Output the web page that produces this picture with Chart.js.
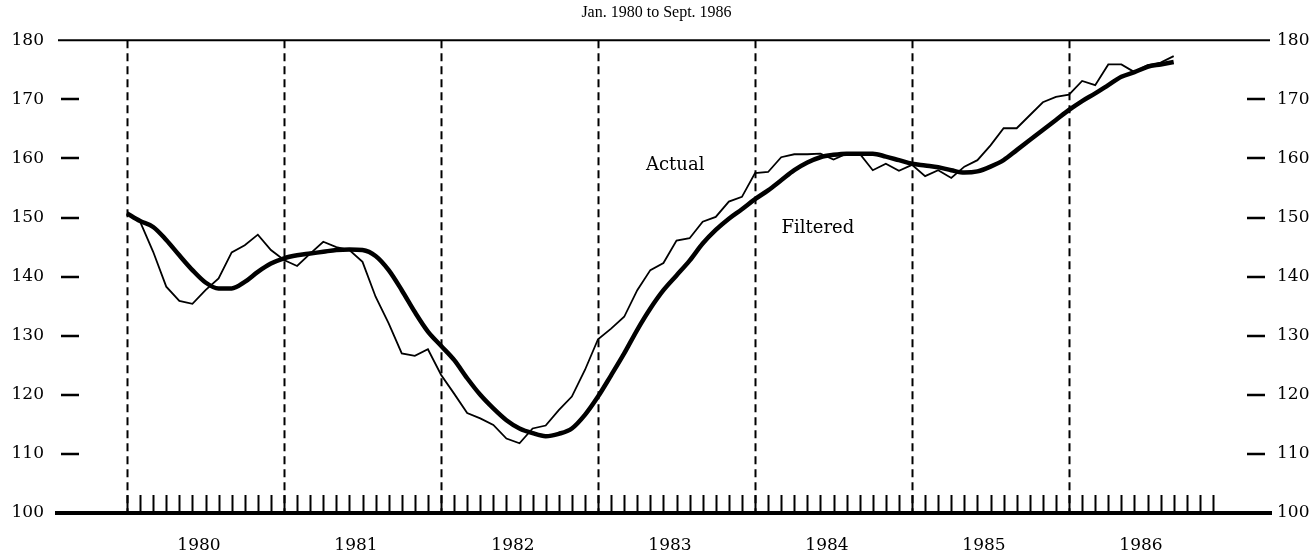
<!DOCTYPE html>
<html>
<head>
<meta charset="utf-8">
<title>Jan. 1980 to Sept. 1986</title>
<script src="https://cdn.jsdelivr.net/npm/chart.js@4.4.1/dist/chart.umd.min.js"></script>
<style>
  html, body { margin: 0; padding: 0; background: #fff; }
  #wrap { width: 1313px; height: 555px; position: relative; }
</style>
</head>
<body>
<div id="wrap"><canvas id="chart"></canvas></div>
<script>
/* ── Data (monthly, Jan 1980 = month 0) ── */
const years = ['1980', '1981', '1982', '1983', '1984', '1985', '1986'];
const yTicks = [100, 110, 120, 130, 140, 150, 160, 170, 180];
const tickMonths = 84; // Jan 1980 .. Dec 1986

const actual = [
  150.8, 149.3, 144.2, 138.3, 135.9, 135.4, 137.7, 139.7, 144.1, 145.3, 147.1, 144.5,
  142.8, 141.8, 143.9, 145.9, 145.0, 144.5, 142.5, 136.6, 132.1, 127.0, 126.6, 127.7,
  123.4, 120.2, 116.9, 116.0, 114.9, 112.6, 111.8, 114.3, 114.8, 117.4, 119.7, 124.2,
  129.4, 131.2, 133.2, 137.7, 141.1, 142.3, 146.1, 146.5, 149.3, 150.1, 152.7, 153.5,
  157.5, 157.7, 160.2, 160.7, 160.7, 160.8, 159.8, 160.8, 160.8, 158.0, 159.1, 157.9,
  158.9, 157.0, 158.0, 156.7, 158.6, 159.7, 162.2, 165.1, 165.1, 167.3, 169.5, 170.4,
  170.8, 173.1, 172.4, 175.9, 175.9, 174.6, 175.8, 176.2, 177.3
];

const filtered = [
  150.7, 149.4, 148.4, 146.2, 143.6, 141.1, 139.0, 138.0, 138.0, 139.1, 140.8, 142.2,
  143.1, 143.6, 143.9, 144.2, 144.5, 144.6, 144.5, 143.5, 141.1, 137.7, 134.0, 130.7,
  128.3, 125.9, 122.8, 120.0, 117.7, 115.7, 114.3, 113.5, 113.0, 113.4, 114.3, 116.6,
  119.7, 123.3, 127.0, 131.0, 134.6, 137.7, 140.2, 142.7, 145.6, 147.9, 149.8, 151.4,
  153.1, 154.6, 156.3, 158.0, 159.3, 160.2, 160.6, 160.8, 160.8, 160.8, 160.3, 159.7,
  159.1, 158.8, 158.5, 158.0, 157.6, 157.8, 158.6, 159.7, 161.4, 163.1, 164.8, 166.5,
  168.2, 169.7, 171.0, 172.4, 173.8, 174.6, 175.5, 175.9, 176.3
];

/* ── Annotation labels (month, value) ── */
const notes = [
  { text: 'Actual',   month: 41.9, value: 158.9 },
  { text: 'Filtered', month: 52.8, value: 148.2 }
];

const FONT = 'DejaVu Serif';

/* ── Frame: year dividers, month ticks, value dashes ── */
const framePlugin = {
  id: 'frame',
  beforeDatasetsDraw(chart) {
    const { ctx, chartArea: a, scales } = chart;
    const x = scales.x, y = scales.y;
    ctx.save();
    ctx.strokeStyle = '#000';

    // dashed year dividers
    ctx.lineWidth = 2;
    ctx.setLineDash([8, 5]);
    years.forEach((yr, i) => {
      const px = Math.round(x.getPixelForValue(i * 12)) + 0.5;
      ctx.beginPath();
      ctx.moveTo(px, a.top);
      ctx.lineTo(px, a.bottom);
      ctx.stroke();
    });
    ctx.setLineDash([]);

    // monthly ticks along the base
    ctx.lineWidth = 2;
    for (let m = 0; m < tickMonths; m++) {
      const px = Math.round(x.getPixelForValue(m)) + 0.5;
      ctx.beginPath();
      ctx.moveTo(px, a.bottom);
      ctx.lineTo(px, a.bottom - 18);
      ctx.stroke();
    }

    // top line (180)
    const yTop = y.getPixelForValue(180);
    ctx.lineWidth = 2;
    ctx.beginPath();
    ctx.moveTo(a.left, yTop);
    ctx.lineTo(a.right, yTop);
    ctx.stroke();

    // base line (100)
    const yBase = y.getPixelForValue(100);
    ctx.lineWidth = 4;
    ctx.beginPath();
    ctx.moveTo(a.left - 3, yBase);
    ctx.lineTo(a.right + 2, yBase);
    ctx.stroke();

    // short value dashes, both sides
    ctx.lineWidth = 2.5;
    yTicks.slice(1, -1).forEach(v => {
      const py = Math.round(y.getPixelForValue(v));
      ctx.beginPath();
      ctx.moveTo(a.left + 3, py);
      ctx.lineTo(a.left + 21, py);
      ctx.moveTo(a.right - 23, py);
      ctx.lineTo(a.right - 5, py);
      ctx.stroke();
    });
    ctx.restore();
  },
  afterDatasetsDraw(chart) {
    const { ctx, scales } = chart;
    ctx.save();
    ctx.fillStyle = '#000';
    ctx.font = `18px "${FONT}"`;
    ctx.textAlign = 'center';
    ctx.textBaseline = 'middle';
    notes.forEach(n => {
      ctx.fillText(n.text, scales.x.getPixelForValue(n.month), scales.y.getPixelForValue(n.value));
    });
    ctx.restore();
  }
};

const yAxisBase = {
  min: 100, max: 180,
  grid: { display: false, drawTicks: false },
  border: { display: false },
  afterBuildTicks: s => { s.ticks = yTicks.map(v => ({ value: v })); }
};
const labelFont = { family: FONT, size: 17 };

new Chart(document.getElementById('chart'), {
  type: 'line',
  data: {
    datasets: [
      {
        label: 'Filtered',
        data: filtered.map((v, i) => ({ x: i, y: v })),
        borderColor: '#000', borderWidth: 4.5,
        pointRadius: 0, tension: 0.4, cubicInterpolationMode: 'monotone'
      },
      {
        label: 'Actual',
        data: actual.map((v, i) => ({ x: i, y: v })),
        borderColor: '#000', borderWidth: 1.8,
        pointRadius: 0, tension: 0
      }
    ]
  },
  options: {
    responsive: true, maintainAspectRatio: false, animation: false,
    layout: { padding: 0 },
    plugins: {
      legend: { display: false },
      tooltip: { enabled: false },
      title: {
        display: true, text: 'Jan. 1980 to Sept. 1986', color: '#000',
        font: { family: 'Liberation Serif', size: 16, weight: 'normal' },
        padding: { top: 3, bottom: 18 }
      }
    },
    scales: {
      x: {
        type: 'linear', min: -5.274, max: 87.36, bounds: 'data',
        grid: { display: false, drawTicks: false },
        border: { display: false },
        afterBuildTicks: s => { s.ticks = years.map((yr, i) => ({ value: i * 12 + 5.5 })); },
        ticks: {
          autoSkip: false, maxRotation: 0, padding: 22, color: '#000',
          font: labelFont,
          callback: (v, i) => years[i]
        },
        afterFit: s => { s.height = 42; }
      },
      y: {
        ...yAxisBase, position: 'left',
        ticks: { padding: 14, color: '#000', font: labelFont },
        afterFit: s => { s.width = 58; }
      },
      y2: {
        ...yAxisBase, position: 'right',
        ticks: { padding: 7, color: '#000', font: labelFont },
        afterFit: s => { s.width = 43; }
      }
    }
  },
  plugins: [framePlugin]
});
</script>
</body>
</html>
